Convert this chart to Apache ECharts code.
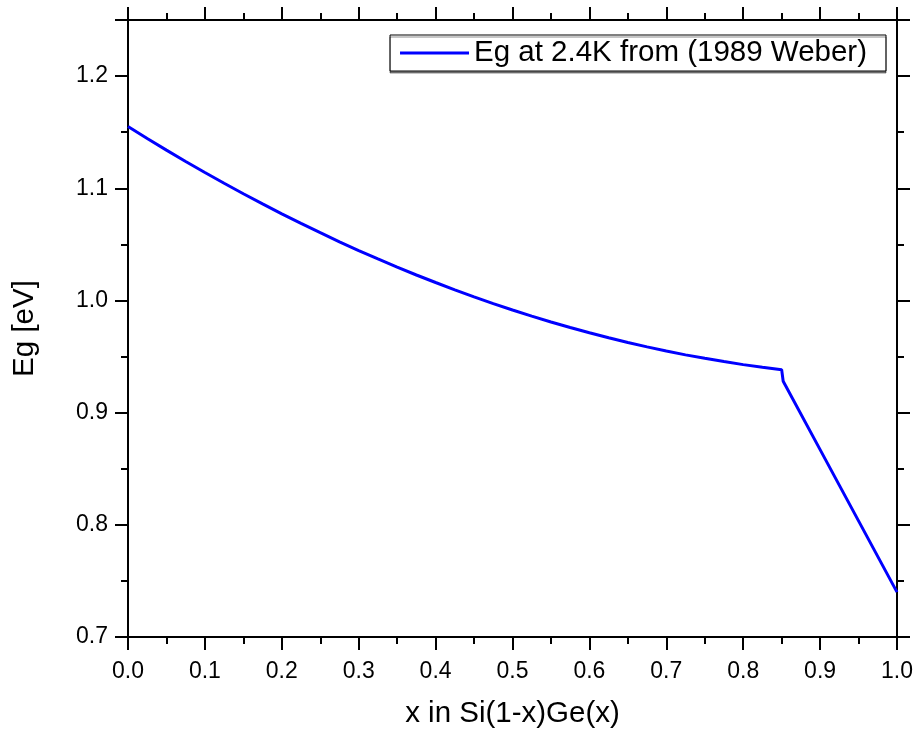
<!DOCTYPE html>
<html>
<head>
<meta charset="utf-8">
<script src="https://cdn.jsdelivr.net/npm/echarts@6/dist/echarts.min.js"></script>
<style>
html,body{margin:0;padding:0;background:#fff;}
#chart{width:917px;height:734px;}
</style>
</head>
<body>
<div id="chart"></div>
<script>
var seriesName = 'Eg at 2.4K from (1989 Weber)';
var xTitle = 'x in Si(1-x)Ge(x)';
var yTitle = 'Eg [eV]';
var xValues = [0, 0.025, 0.05, 0.075, 0.1, 0.125, 0.15, 0.175, 0.2, 0.225, 0.25, 0.275, 0.3, 0.325, 0.35, 0.375, 0.4, 0.425, 0.45, 0.475, 0.5, 0.525, 0.55, 0.575, 0.6, 0.625, 0.65, 0.675, 0.7, 0.725, 0.75, 0.775, 0.8, 0.825, 0.85, 0.852, 0.9, 0.95, 1.0];
var egValues = [1.155, 1.1444, 1.1340, 1.1239, 1.1141, 1.1045, 1.0951, 1.0861, 1.0772, 1.0687, 1.0604, 1.0523, 1.0445, 1.0370, 1.0297, 1.0227, 1.0160, 1.0095, 1.0032, 0.9972, 0.9915, 0.9860, 0.9808, 0.9759, 0.9712, 0.9667, 0.9625, 0.9586, 0.9549, 0.9515, 0.9484, 0.9455, 0.9428, 0.9405, 0.9383, 0.9280, 0.867, 0.8035, 0.740];

var fontFam = '"Liberation Sans", Arial, sans-serif';
var data = xValues.map(function (x, i) { return [x, egValues[i]]; });

function axisCommon(showLabel, isX) {
  return {
    type: 'value',
    min: isX ? 0 : 0.7,
    max: isX ? 1.0 : 1.25,
    interval: 0.1,
    axisLine: { show: true, onZero: false, lineStyle: { color: '#000', width: 2 } },
    axisTick: { show: true, inside: false, length: 13, lineStyle: { color: '#000', width: 2 } },
    minorTick: { show: true, splitNumber: 2, length: 7, lineStyle: { color: '#000', width: 2 } },
    splitLine: { show: false },
    minorSplitLine: { show: false },
    axisLabel: {
      show: showLabel,
      margin: isX ? 23 : 20,
      color: '#000',
      fontSize: 23,
      fontFamily: fontFam,
      showMaxLabel: isX ? true : false,
      formatter: function (v) { return v.toFixed(1); }
    }
  };
}

var xBottom = axisCommon(true, true);
xBottom.position = 'bottom';
xBottom.name = xTitle;
xBottom.nameLocation = 'middle';
xBottom.nameGap = 62;
xBottom.nameTextStyle = { color: '#000', fontSize: 29.5, fontFamily: fontFam };
var xTop = axisCommon(false, true);
xTop.position = 'top';

var yLeft = axisCommon(true, false);
yLeft.position = 'left';
yLeft.name = yTitle;
yLeft.nameLocation = 'middle';
yLeft.nameGap = 88;
yLeft.nameTextStyle = { color: '#000', fontSize: 29.5, fontFamily: fontFam };
var yRight = axisCommon(false, false);
yRight.position = 'right';

var chart = echarts.init(document.getElementById('chart'));
chart.setOption({
  animation: false,
  backgroundColor: '#fff',
  grid: { left: 128, right: 20, top: 20, bottom: 94, containLabel: false },
  legend: {
    right: 31,
    top: 35,
    orient: 'horizontal',
    backgroundColor: '#fff',
    borderColor: '#000',
    borderWidth: 1,
    borderRadius: 0,
    shadowColor: 'rgba(0,0,0,0.45)',
    shadowOffsetX: 0,
    shadowOffsetY: 2,
    shadowBlur: 0,
    padding: [3, 19, 3, 10],
    icon: 'rect',
    itemWidth: 69,
    itemHeight: 3,
    itemGap: 8,
    textStyle: { color: '#000', fontSize: 29.5, fontFamily: fontFam, lineHeight: 30 },
    data: [seriesName]
  },
  xAxis: [xBottom, xTop],
  yAxis: [yLeft, yRight],
  series: [{
    name: seriesName,
    type: 'line',
    xAxisIndex: 0,
    yAxisIndex: 0,
    data: data,
    showSymbol: false,
    symbol: 'none',
    smooth: false,
    lineStyle: { color: '#0000ff', width: 3 },
    itemStyle: { color: '#0000ff' }
  }]
});
</script>
</body>
</html>
